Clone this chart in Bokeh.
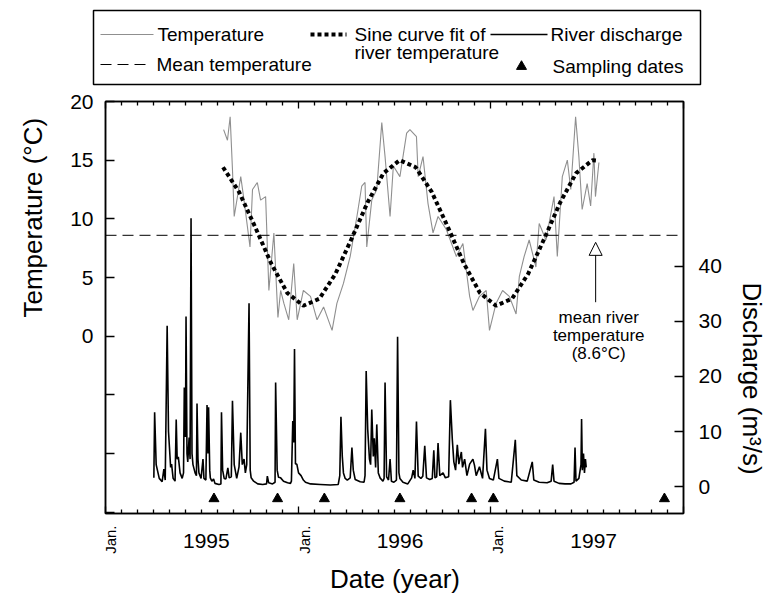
from bokeh.plotting import figure
from bokeh.models import Range1d, LinearAxis, FixedTicker, Span, Label, Arrow, NormalHead, Title
from bokeh.layouts import column
from bokeh.embed import file_html
from bokeh.resources import INLINE

FONT = "Liberation Sans"

# ---------------- data ----------------
temp_dates = [1995.613, 1995.633, 1995.647, 1995.659, 1995.668, 1995.702, 1995.719, 1995.750,
              1995.763, 1995.788, 1995.805, 1995.831, 1995.848, 1995.874, 1995.895, 1995.909,
              1995.926, 1995.951, 1995.977, 1995.995, 1996.027, 1996.064, 1996.098, 1996.132,
              1996.176, 1996.201, 1996.235, 1996.270, 1996.305, 1996.330, 1996.347, 1996.356,
              1996.382, 1996.408, 1996.434, 1996.451, 1996.477, 1996.494, 1996.528, 1996.563,
              1996.580, 1996.614, 1996.623, 1996.648, 1996.674, 1996.700, 1996.726, 1996.769,
              1996.821, 1996.855, 1996.890, 1996.907, 1996.941, 1996.976, 1996.993, 1997.027,
              1997.061, 1997.096, 1997.131, 1997.148, 1997.173, 1997.199, 1997.234, 1997.251,
              1997.286, 1997.328, 1997.345, 1997.371, 1997.397, 1997.415, 1997.440, 1997.457,
              1997.474, 1997.500, 1997.518, 1997.535, 1997.543, 1997.561]
temp_values = [17.6, 16.7, 18.7, 14.2, 10.2, 13.6, 11.6, 7.6,
               12.5, 13.1, 11.6, 11.9, 3.9, 8.8, 1.6, 3.9,
               2.8, 1.4, 6.2, 1.4, 3.9, 3.4, 1.4, 2.5,
               0.5, 2.8, 4.5, 6.8, 10.2, 12.8, 13.1, 7.6,
               11.6, 12.5, 18.2, 15.3, 10.2, 14.5, 13.6, 17.3,
               17.6, 17.0, 13.6, 15.3, 11.3, 8.8, 10.2, 9.1,
               6.8, 7.9, 3.4, 2.2, 3.4, 3.9, 0.5, 2.8,
               3.9, 3.4, 1.9, 5.1, 6.8, 8.2, 5.9, 9.6,
               8.2, 11.9, 6.8, 13.6, 15.0, 12.5, 18.7, 15.3,
               10.8, 13.0, 11.1, 15.6, 11.9, 14.8]

fit_dates = [1995.610, 1995.693, 1995.777, 1995.860, 1995.943, 1996.027, 1996.110, 1996.193,
             1996.277, 1996.360, 1996.443, 1996.527, 1996.610, 1996.693, 1996.777, 1996.860,
             1996.943, 1997.027, 1997.110, 1997.193, 1997.277, 1997.360, 1997.443, 1997.527,
             1997.560]
fit_values = [14.4, 12.3, 9.3, 6.2, 3.7, 2.6, 3.2, 5.3,
              8.3, 11.4, 13.9, 15.0, 14.4, 12.3, 9.3, 6.2,
              3.7, 2.6, 3.2, 5.3, 8.3, 11.4, 13.9, 15.0,
              14.95]

q_dates = [1995.251, 1995.255, 1995.263, 1995.279, 1995.294, 1995.303, 1995.310, 1995.320,
           1995.327, 1995.332, 1995.338, 1995.343, 1995.351, 1995.361, 1995.367, 1995.372,
           1995.378, 1995.387, 1995.398, 1995.405, 1995.409, 1995.415, 1995.418, 1995.423,
           1995.427, 1995.434, 1995.439, 1995.444, 1995.449, 1995.454, 1995.465, 1995.472,
           1995.475, 1995.480, 1995.485, 1995.496, 1995.506, 1995.511, 1995.521, 1995.527,
           1995.532, 1995.535, 1995.541, 1995.544, 1995.552, 1995.561, 1995.568, 1995.589,
           1995.599, 1995.602, 1995.608, 1995.616, 1995.625, 1995.635, 1995.642, 1995.653,
           1995.659, 1995.668, 1995.676, 1995.681, 1995.693, 1995.702, 1995.710, 1995.719,
           1995.726, 1995.733, 1995.745, 1995.751, 1995.756, 1995.769, 1995.790, 1995.816,
           1995.836, 1995.840, 1995.847, 1995.867, 1995.880, 1995.883, 1995.891, 1995.898,
           1995.909, 1995.924, 1995.945, 1995.960, 1995.965, 1995.972, 1995.977, 1995.981,
           1995.986, 1995.993, 1996.002, 1996.015, 1996.027, 1996.038, 1996.064, 1996.115,
           1996.167, 1996.208, 1996.216, 1996.222, 1996.229, 1996.235, 1996.244, 1996.255,
           1996.270, 1996.279, 1996.286, 1996.296, 1996.322, 1996.342, 1996.347, 1996.353,
           1996.361, 1996.370, 1996.376, 1996.382, 1996.390, 1996.395, 1996.402, 1996.408,
           1996.416, 1996.425, 1996.440, 1996.446, 1996.451, 1996.459, 1996.469, 1996.477,
           1996.484, 1996.497, 1996.510, 1996.516, 1996.523, 1996.528, 1996.544, 1996.569,
           1996.589, 1996.597, 1996.606, 1996.614, 1996.623, 1996.637, 1996.647, 1996.657,
           1996.666, 1996.683, 1996.696, 1996.704, 1996.710, 1996.719, 1996.726, 1996.735,
           1996.752, 1996.764, 1996.781, 1996.790, 1996.800, 1996.808, 1996.817, 1996.826,
           1996.834, 1996.847, 1996.853, 1996.864, 1996.876, 1996.890, 1996.907, 1996.915,
           1996.924, 1996.941, 1996.957, 1996.972, 1996.980, 1996.993, 1997.013, 1997.034,
           1997.042, 1997.070, 1997.106, 1997.127, 1997.135, 1997.158, 1997.189, 1997.215,
           1997.223, 1997.251, 1997.292, 1997.313, 1997.321, 1997.328, 1997.354, 1997.385,
           1997.416, 1997.432, 1997.437, 1997.442, 1997.457, 1997.468, 1997.471, 1997.475,
           1997.481, 1997.486, 1997.491, 1997.495]
q_values = [1.6, 13.5, 4.0, 1.5, 0.9, 3.2, 1.2, 29.2,
            10.0, 7.1, 3.5, 4.1, 1.5, 1.0, 12.2, 5.0,
            5.4, 2.5, 1.5, 2.5, 18.0, 9.0, 30.9, 6.0,
            4.5, 8.9, 5.0, 48.7, 6.0, 4.0, 2.5, 2.0,
            15.1, 5.0, 2.5, 1.5, 5.0, 1.5, 1.2, 14.8,
            6.0, 14.4, 3.0, 1.6, 1.0, 1.4, 0.6, 0.4,
            0.5, 13.5, 3.0, 1.5, 1.4, 3.4, 1.6, 1.8,
            15.6, 4.0, 2.5, 1.5, 3.6, 9.8, 4.0, 5.0,
            2.5, 4.0, 33.3, 3.0, 1.6, 1.0, 0.5, 0.4,
            0.5, 1.9, 0.7, 0.5, 0.8, 18.9, 3.0, 1.7,
            1.6, 1.0, 0.7, 0.6, 1.0, 11.9, 8.0, 25.0,
            4.1, 4.1, 2.5, 2.0, 1.2, 0.8, 0.5, 0.4,
            0.3, 0.4, 2.0, 12.7, 5.5, 2.5, 1.5, 1.2,
            1.6, 7.1, 3.0, 1.3, 0.9, 0.8, 2.0, 21.0,
            10.4, 5.0, 4.0, 14.0, 5.5, 8.8, 3.5, 11.3,
            2.5, 1.6, 1.0, 1.5, 18.9, 1.8, 1.2, 5.0,
            1.0, 0.8, 1.2, 27.2, 2.5, 1.5, 0.8, 0.5,
            1.6, 3.0, 1.5, 11.8, 1.9, 1.5, 1.9, 7.4,
            1.6, 1.3, 1.5, 6.6, 1.6, 1.8, 7.9, 2.0,
            2.5, 1.6, 1.8, 15.7, 8.6, 4.5, 3.0, 7.6,
            4.1, 6.3, 3.5, 5.0, 2.0, 4.1, 5.0, 3.9,
            2.0, 3.6, 1.5, 10.5, 3.0, 1.5, 1.2, 5.0,
            1.5, 1.0, 0.8, 8.5, 2.0, 1.2, 1.0, 4.5,
            1.2, 0.8, 0.7, 1.0, 4.0, 1.0, 0.6, 0.5,
            0.5, 0.8, 7.1, 1.0, 1.5, 4.0, 12.3, 3.0,
            6.0, 2.5, 5.0, 3.5]

sample_dates = [1995.563, 1995.893, 1996.136, 1996.528, 1996.900, 1997.013, 1997.901]
sample_level = [-2.2, -2.2, -2.2, -2.2, -2.2, -2.2, -2.2]

mean_temp = 8.6
temp_ticks = [0, 5, 10, 15, 20]
temp_unlabelled_ticks = [-15, -10, -5]
q_ticks = [0, 10, 20, 30, 40]
jan_ticks = [1995, 1996, 1997, 1998]
jan_labels = [1995, 1996, 1997]
year_centres = [1995.5, 1996.5, 1997.5]
year_texts = ["1995", "1996", "1997"]
month_ticks = [1995 + k / 12 for k in range(1, 36) if k % 12]


def style_axis(ax, lab_size="21px"):
    ax.axis_line_color = "black"
    ax.axis_line_width = 1.5
    ax.major_tick_line_color = "black"
    ax.major_tick_line_width = 1.3
    ax.minor_tick_line_color = "black"
    ax.minor_tick_line_width = 1.3
    ax.major_tick_out = 0
    ax.minor_tick_out = 0
    ax.major_label_text_font = FONT
    ax.major_label_text_font_size = lab_size
    ax.major_label_text_color = "black"


def side_title(text, offset, standoff):
    return Title(text=text, align="left", vertical_align="top", offset=offset,
                 standoff=standoff, text_font=FONT, text_font_size="26px",
                 text_font_style="normal", text_color="black")


def bare(fig):
    fig.xgrid.visible = False
    fig.ygrid.visible = False
    fig.outline_line_color = None
    fig.background_fill_color = "white"
    fig.border_fill_color = "white"
    fig.frame_align = False


# ---------------- main figure ----------------
p = figure(width=776, height=429, x_range=Range1d(1995, 1998), y_range=Range1d(-15.1, 20),
           output_backend="svg", toolbar_location=None,
           x_axis_location=None, y_axis_location=None,
           min_border_left=104, min_border_right=91, min_border_top=14, min_border_bottom=3)
bare(p)
p.extra_y_ranges = {"q": Range1d(-4.87, 69.9)}
p.outline_line_color = "black"
p.outline_line_width = 1.5

xt = FixedTicker(ticks=jan_ticks, minor_ticks=month_ticks)
for side in ("below", "above"):
    ax = LinearAxis(ticker=xt)
    style_axis(ax, "1px")
    ax.major_label_text_color = None
    ax.major_label_standoff = 0
    ax.major_tick_in = 7
    ax.minor_tick_in = 4
    p.add_layout(ax, side)

yl = LinearAxis(ticker=FixedTicker(ticks=temp_ticks, minor_ticks=temp_unlabelled_ticks))
style_axis(yl)
yl.major_tick_in = 9
yl.minor_tick_in = 9
yl.major_label_standoff = 12
p.add_layout(yl, "left")
p.add_layout(side_title("Temperature (°C)", 196, 35), "left")

yr = LinearAxis(y_range_name="q", ticker=FixedTicker(ticks=q_ticks, minor_ticks=[]))
style_axis(yr)
yr.major_tick_in = 9
yr.major_label_standoff = 15
p.add_layout(yr, "right")
p.add_layout(side_title("Discharge (m³/s)", 181, 20), "right")

# data layers
p.line(q_dates, q_values, y_range_name="q", line_color="black", line_width=1.6)
p.line(temp_dates, temp_values, line_color="#8f8f8f", line_width=1.1)
p.line(fit_dates, fit_values, line_color="black", line_width=4, line_dash="4 3")
p.add_layout(Span(location=mean_temp, dimension="width", line_color="black",
                  line_width=1, line_dash="11 6"))
p.scatter(sample_dates, sample_level, y_range_name="q", marker="triangle", size=10,
          fill_color="black", line_color="black")

# annotation
p.add_layout(Arrow(end=NormalHead(size=13, fill_color="white", line_color="black", line_width=1),
                   x_start=1997.544, y_start=2.9, x_end=1997.544, y_end=8.0,
                   line_color="black", line_width=1))
for txt, yy in [("mean river", 1.62), ("temperature", 0.05), ("(8.6°C)", -1.45)]:
    p.add_layout(Label(x=1997.56, y=yy, text=txt, text_align="center", text_baseline="middle",
                       text_font=FONT, text_font_size="17px", text_color="black"))

# ---------------- x tick texts and title (strip under the plot) ----------------
xl = figure(width=776, height=81, x_range=p.x_range, y_range=Range1d(81, 0),
            output_backend="svg", toolbar_location=None,
            x_axis_location=None, y_axis_location=None,
            min_border_left=104, min_border_right=91, min_border_top=0, min_border_bottom=0)
bare(xl)
for xv in jan_labels:
    xl.add_layout(Label(x=xv, y=9, x_offset=6, text="Jan.", angle=1.5708,
                        text_align="right", text_baseline="middle",
                        text_font=FONT, text_font_size="15px", text_color="black"))
for xv, txt in zip(year_centres, year_texts):
    xl.add_layout(Label(x=xv, y=24, x_offset=5, text=txt,
                        text_align="center", text_baseline="middle",
                        text_font=FONT, text_font_size="21px", text_color="black"))
xl.add_layout(Label(x=1996.5, y=62, text="Date (year)", text_align="center",
                    text_baseline="middle", text_font=FONT, text_font_size="26px",
                    text_color="black"))

# ---------------- legend panel ----------------
leg = figure(width=776, height=87, x_range=Range1d(0, 776), y_range=Range1d(87, 0),
             output_backend="svg", toolbar_location=None,
             x_axis_location=None, y_axis_location=None,
             min_border_left=0, min_border_right=0, min_border_top=0, min_border_bottom=0)
bare(leg)
leg.quad(left=[93], right=[700], top=[10], bottom=[84], fill_color=None,
         line_color="black", line_width=1.5)
leg.line([100, 153], [34, 34], line_color="#8f8f8f", line_width=1.1)
leg.line([100, 151], [64, 64], line_color="black", line_width=1, line_dash="11 6")
leg.line([310, 346], [34, 34], line_color="black", line_width=4, line_dash="4 3")
leg.line([490, 547], [34, 34], line_color="black", line_width=1.6)
leg.scatter([521], [66], marker="triangle", size=10, fill_color="black", line_color="black")

for txt, xx, yy in [("Temperature", 157, 34), ("Mean temperature", 156, 64),
                    ("Sine curve fit of", 354, 34), ("river temperature", 354, 52),
                    ("River discharge", 550, 34), ("Sampling dates", 552, 66)]:
    leg.add_layout(Label(x=xx, y=yy, text=txt, text_align="left", text_baseline="middle",
                         text_font=FONT, text_font_size="19px", text_color="black"))

layout = column(leg, p, xl, spacing=0)
open("out.html", "w").write(file_html(layout, INLINE))
